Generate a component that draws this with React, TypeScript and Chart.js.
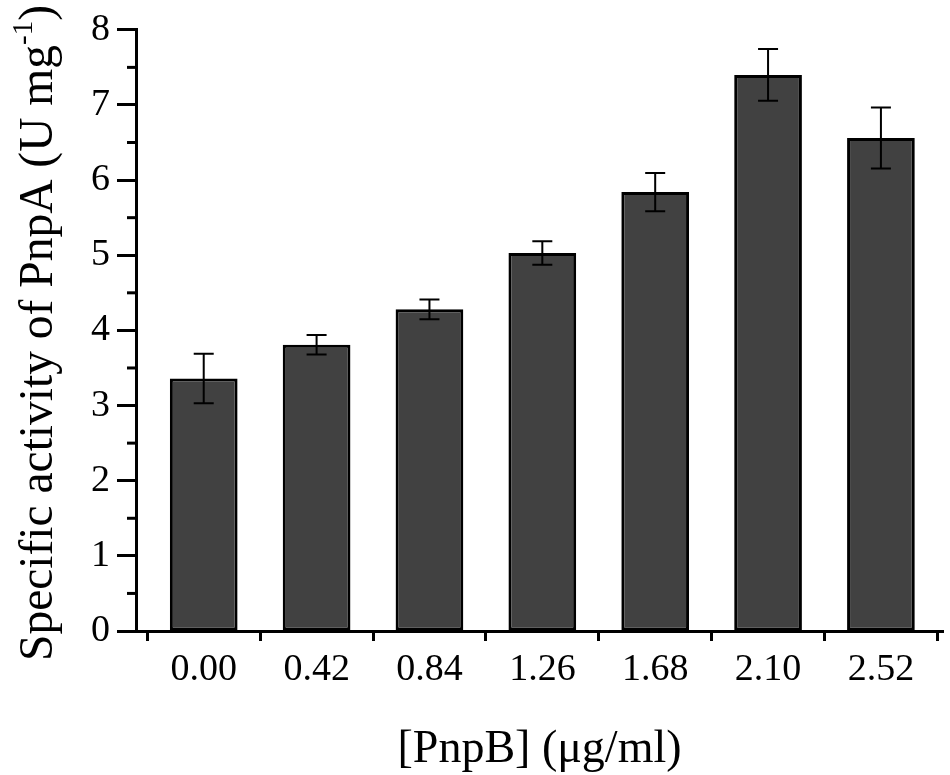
import React, { useEffect, useRef } from 'react';
import { Chart, registerables } from 'chart.js';

Chart.register(...registerables);

const categories = ['0.00', '0.42', '0.84', '1.26', '1.68', '2.10', '2.52'];
const activity = [3.36, 3.81, 4.28, 5.03, 5.84, 7.4, 6.56];
const errors = [0.33, 0.13, 0.13, 0.155, 0.255, 0.345, 0.405];
const yMin = 0;
const yMax = 8;
const xTitle = '[PnpB] (μg/ml)';
const yTitleMain = 'Specific activity of PnpA (U mg';
const yTitleSup = '-1';
const yTitleEnd = ')';

const FONT = "'Liberation Serif', 'Times New Roman', serif";

const errorBarPlugin = {
  id: 'errorBars',
  afterDatasetsDraw(chart: any) {
    const { ctx, scales } = chart;
    const xs = scales.x;
    const ys = scales.y;
    ctx.save();
    ctx.strokeStyle = '#000';
    ctx.lineWidth = 2;
    activity.forEach((v, i) => {
      const x = xs.getPixelForValue(i);
      const yTop = ys.getPixelForValue(v + errors[i]);
      const yBot = ys.getPixelForValue(v - errors[i]);
      const cap = 10;
      ctx.beginPath();
      ctx.moveTo(x, yTop);
      ctx.lineTo(x, yBot);
      ctx.moveTo(x - cap, yTop);
      ctx.lineTo(x + cap, yTop);
      ctx.moveTo(x - cap, yBot);
      ctx.lineTo(x + cap, yBot);
      ctx.stroke();
    });
    ctx.restore();
  },
};

const axisExtrasPlugin = {
  id: 'axisExtras',
  afterDraw(chart: any) {
    const { ctx, scales, chartArea } = chart;
    const ys = scales.y;
    ctx.save();
    // minor y ticks
    ctx.strokeStyle = '#000';
    ctx.lineWidth = 3;
    for (let v = yMin + 0.5; v < yMax; v += 1) {
      const y = ys.getPixelForValue(v);
      ctx.beginPath();
      ctx.moveTo(chartArea.left - 9, y);
      ctx.lineTo(chartArea.left, y);
      ctx.stroke();
    }
    // x title
    ctx.fillStyle = '#000';
    ctx.font = `46px ${FONT}`;
    ctx.textAlign = 'center';
    ctx.textBaseline = 'alphabetic';
    ctx.fillText(xTitle, (chartArea.left + chartArea.right) / 2, 762);
    // y title with superscript
    ctx.translate(52, 333);
    ctx.rotate(-Math.PI / 2);
    const mainFont = `47.5px ${FONT}`;
    const supFont = `29px ${FONT}`;
    ctx.font = mainFont;
    const wMain = ctx.measureText(yTitleMain).width;
    const wEnd = ctx.measureText(yTitleEnd).width;
    ctx.font = supFont;
    const wSup = ctx.measureText(yTitleSup).width;
    const total = wMain + wSup + wEnd;
    let x = -total / 2;
    ctx.textAlign = 'left';
    ctx.font = mainFont;
    ctx.fillText(yTitleMain, x, 0);
    x += wMain;
    ctx.font = supFont;
    ctx.fillText(yTitleSup, x, -20);
    x += wSup;
    ctx.font = mainFont;
    ctx.fillText(yTitleEnd, x, 0);
    ctx.restore();
  },
};

export default function App() {
  const canvasRef = useRef<HTMLCanvasElement | null>(null);

  useEffect(() => {
    document.body.style.margin = '0';
    const canvas = canvasRef.current;
    if (!canvas) return;
    const boundaries = categories.map((_, i) => i - 0.5).concat([categories.length - 0.5]);
    const chart = new Chart(canvas, {
      type: 'bar',
      data: {
        datasets: [
          {
            data: activity.map((v, i) => ({ x: i, y: v })),
            backgroundColor: '#414141',
            borderColor: '#000',
            borderWidth: 3,
            borderSkipped: false,
            categoryPercentage: 1,
            barPercentage: 0.6,
          },
        ],
      },
      options: {
        animation: false,
        responsive: false,
        maintainAspectRatio: false,
        devicePixelRatio: 1,
        layout: { padding: { top: 25, right: 7, left: 0, bottom: 0 } },
        plugins: {
          legend: { display: false },
          tooltip: { enabled: false },
        },
        scales: {
          x: {
            type: 'linear',
            min: -0.6,
            max: 6.55,
            offset: false,
            afterBuildTicks: (scale: any) => {
              scale.ticks = boundaries.map((v) => ({ value: v }));
            },
            afterFit: (scale: any) => {
              scale.height = 144;
            },
            grid: {
              display: true,
              offset: false,
              drawOnChartArea: false,
              drawTicks: true,
              tickLength: 10,
              tickWidth: 3,
              tickColor: '#000',
            },
            border: { display: true, color: '#000', width: 3 },
            ticks: {
              autoSkip: false,
              maxRotation: 0,
              minRotation: 0,
              labelOffset: 56.5,
              padding: 6,
              color: '#000',
              font: { family: FONT, size: 38 },
              callback: (_v: any, index: number) => categories[index] ?? '',
            },
          },
          y: {
            type: 'linear',
            min: yMin,
            max: yMax,
            afterFit: (scale: any) => {
              scale.width = 136;
            },
            grid: {
              display: true,
              drawOnChartArea: false,
              drawTicks: true,
              tickLength: 19,
              tickWidth: 3,
              tickColor: '#000',
            },
            border: { display: true, color: '#000', width: 3 },
            ticks: {
              stepSize: 1,
              padding: 7,
              color: '#000',
              font: { family: FONT, size: 38 },
            },
          },
        },
      },
      plugins: [errorBarPlugin, axisExtrasPlugin],
    } as any);
    return () => chart.destroy();
  }, []);

  return (
    <div style={{ position: 'absolute', left: 0, top: 0, width: 950, height: 775, background: '#fff' }}>
      <canvas ref={canvasRef} width={950} height={775} style={{ width: 950, height: 775 }} />
    </div>
  );
}
